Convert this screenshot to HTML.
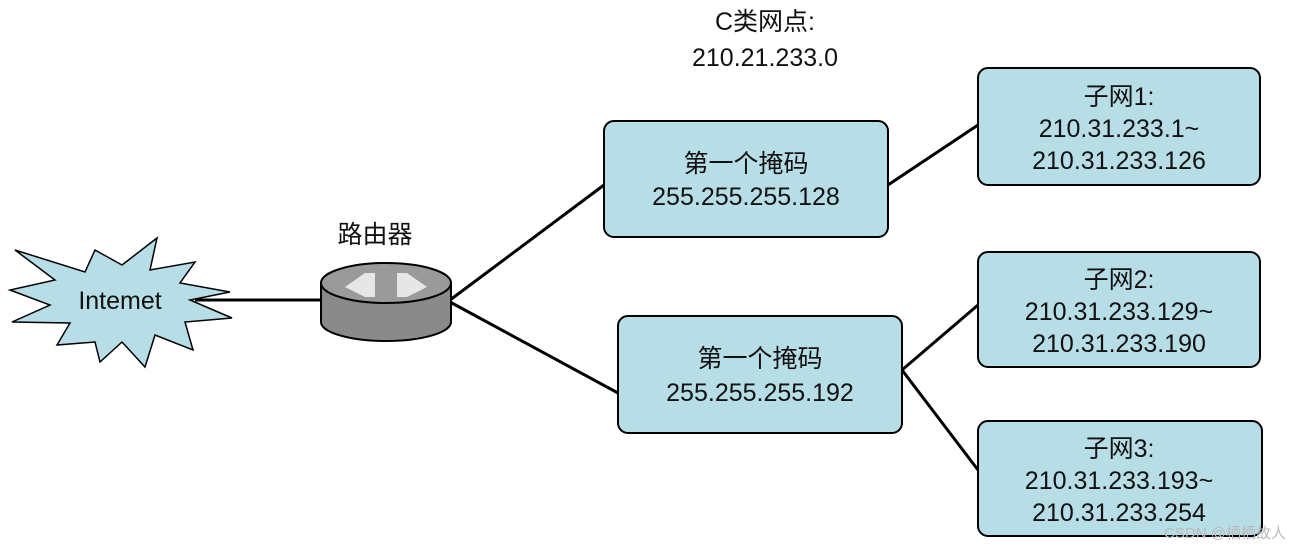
<!DOCTYPE html>
<html><head><meta charset="utf-8"><style>
body{margin:0;background:#fff;}
svg text{font-family:"Liberation Sans","Noto Sans CJK SC",sans-serif;font-size:25px;fill:#111;text-anchor:middle;}
</style></head><body>
<svg width="1304" height="550" viewBox="0 0 1304 550" xmlns="http://www.w3.org/2000/svg">
<g stroke="#000" stroke-width="3" fill="none">
<line x1="195" y1="300" x2="322" y2="300"/>
<line x1="450" y1="300" x2="604" y2="185"/>
<line x1="450" y1="302" x2="618" y2="393"/>
<line x1="888" y1="185" x2="978" y2="125"/>
<line x1="902" y1="370" x2="978" y2="305"/>
<line x1="902" y1="370" x2="978" y2="470"/>
</g>
<polygon points="15,250 85,272 95,250 122,265 157,238 150,270 195,262 180,283 230,292 190,300 232,318 185,322 193,350 155,335 145,367 122,342 100,362 95,342 57,345 70,323 12,322 50,305 10,290 55,280" fill="#b7dde6" stroke="#000" stroke-width="1.5"/>
<text x="120" y="309">Intemet</text>
<text x="375" y="243">路由器</text>
<path d="M321,283 L321,322 A65,19 0 0 0 451,322 L451,283 Z" fill="#8a8a8a" stroke="#000" stroke-width="2"/>
<ellipse cx="386" cy="283" rx="65" ry="20" fill="#9a9a9a" stroke="#000" stroke-width="2"/>
<polygon points="345,287 365,273 375,273 375,297 365,297" fill="#e6e6e6"/>
<polygon points="427,287 407,273 397,273 397,297 407,297" fill="#e6e6e6"/>
<text x="765" y="30">C类网点:</text>
<text x="765" y="66">210.21.233.0</text>
<g fill="#b7dde6" stroke="#000" stroke-width="2">
<rect x="604" y="121" width="284" height="116" rx="10"/>
<rect x="618" y="316" width="284" height="117" rx="10"/>
<rect x="978" y="68" width="282" height="117" rx="10"/>
<rect x="978" y="252" width="282" height="115" rx="10"/>
<rect x="978" y="421" width="284" height="115" rx="10"/>
</g>
<text x="746" y="172">第一个掩码</text>
<text x="746" y="205">255.255.255.128</text>
<text x="760" y="367">第一个掩码</text>
<text x="760" y="401">255.255.255.192</text>
<text x="1119" y="105">子网1:</text>
<text x="1119" y="137">210.31.233.1~</text>
<text x="1119" y="169">210.31.233.126</text>
<text x="1119" y="288">子网2:</text>
<text x="1119" y="320">210.31.233.129~</text>
<text x="1119" y="352">210.31.233.190</text>
<text x="1119" y="457">子网3:</text>
<text x="1119" y="489">210.31.233.193~</text>
<text x="1119" y="521">210.31.233.254</text>
<text x="1225" y="538" style="font-size:15px;fill:#bbb">CSDN @栖栖故人</text>
</svg>
</body></html>
